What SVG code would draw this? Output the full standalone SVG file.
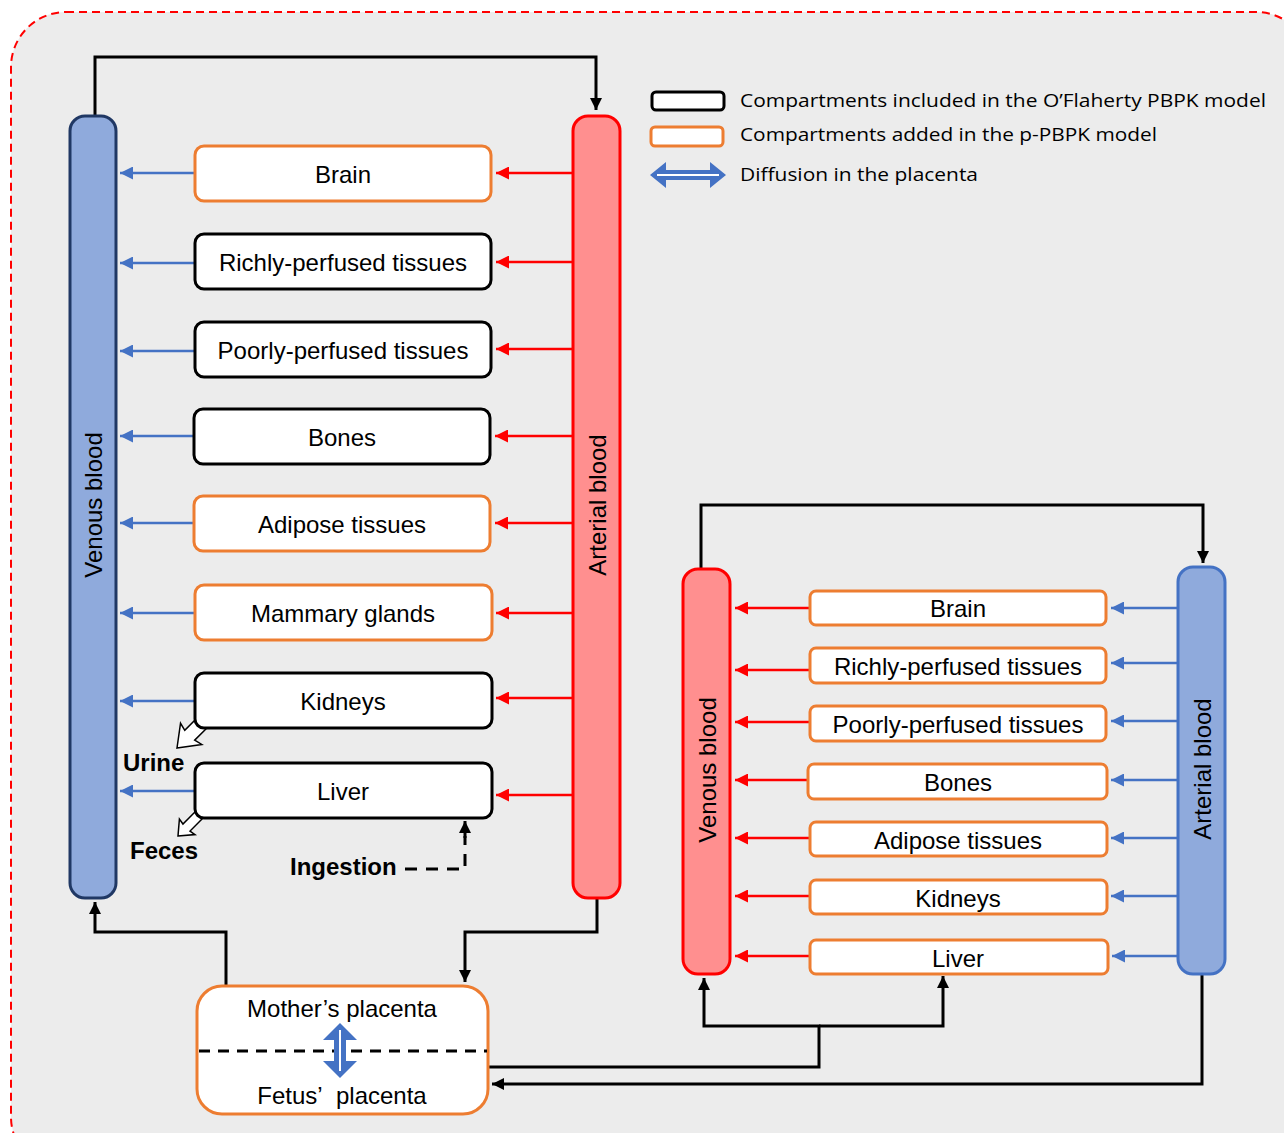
<svg xmlns="http://www.w3.org/2000/svg" width="1284" height="1133" viewBox="0 0 1284 1133">
<style>
.t{font-family:"Liberation Sans",Arial,sans-serif;font-size:24px;fill:#000;text-anchor:middle;dominant-baseline:central}
.col{font-family:"Liberation Sans",Arial,sans-serif;font-size:24px;fill:#000;text-anchor:middle;dominant-baseline:central}
.b{font-family:"Liberation Sans",Arial,sans-serif;font-size:24px;font-weight:bold;fill:#000}
.lg{font-family:"Open Sans","Noto Sans",sans-serif;font-size:19px;fill:#000}
.ob{fill:#fff;stroke:#ed7d31;stroke-width:3}
.kb{fill:#fff;stroke:#000;stroke-width:3}
.ven{fill:#8faadc;stroke:#203864;stroke-width:3}
.art{fill:#ff8f8f;stroke:#ff0000;stroke-width:3}
.fven{fill:#8faadc;stroke:#4472c4;stroke-width:3}
.k{fill:none;stroke:#000;stroke-width:3}
.r{fill:none;stroke:#ff0000;stroke-width:2.5}
.bl{fill:none;stroke:#4472c4;stroke-width:2.5}
</style>
<defs>
<marker id="mk" viewBox="0 0 10 10" refX="10" refY="5" markerWidth="12" markerHeight="14" markerUnits="userSpaceOnUse" orient="auto"><path d="M0,0 L10,5 L0,10 z" fill="#000"/></marker>
<marker id="mr" viewBox="0 0 10 10" refX="10" refY="5" markerWidth="13" markerHeight="13" markerUnits="userSpaceOnUse" orient="auto"><path d="M0,0 L10,5 L0,10 z" fill="#ff0000"/></marker>
<marker id="mb" viewBox="0 0 10 10" refX="10" refY="5" markerWidth="13" markerHeight="13" markerUnits="userSpaceOnUse" orient="auto"><path d="M0,0 L10,5 L0,10 z" fill="#4472c4"/></marker>
</defs>

<rect x="11" y="12" width="1300" height="1160" rx="55" fill="#ececec" stroke="#ff0000" stroke-width="2" stroke-dasharray="8,5"/>

<g id="connectors">
  <path class="k" d="M95,116 V57 H596 V110" marker-end="url(#mk)"/>
  <path class="k" d="M226,986 V932 H95 V902" marker-end="url(#mk)"/>
  <path class="k" d="M597,898 V932 H465 V982" marker-end="url(#mk)"/>
  <path class="r" d="M573,173 H496" marker-end="url(#mr)"/>
  <path class="r" d="M573,262 H496" marker-end="url(#mr)"/>
  <path class="r" d="M573,349 H496" marker-end="url(#mr)"/>
  <path class="r" d="M573,436 H495" marker-end="url(#mr)"/>
  <path class="r" d="M573,523 H495" marker-end="url(#mr)"/>
  <path class="r" d="M573,613 H496" marker-end="url(#mr)"/>
  <path class="r" d="M573,698 H496" marker-end="url(#mr)"/>
  <path class="r" d="M573,795 H496" marker-end="url(#mr)"/>
  <path class="bl" d="M195,173 H120" marker-end="url(#mb)"/>
  <path class="bl" d="M195,263 H120" marker-end="url(#mb)"/>
  <path class="bl" d="M195,351 H120" marker-end="url(#mb)"/>
  <path class="bl" d="M194,436 H120" marker-end="url(#mb)"/>
  <path class="bl" d="M194,523 H120" marker-end="url(#mb)"/>
  <path class="bl" d="M195,613 H120" marker-end="url(#mb)"/>
  <path class="bl" d="M195,701 H120" marker-end="url(#mb)"/>
  <path class="bl" d="M195,791 H120" marker-end="url(#mb)"/>
  <polygon points="0,0 -20,-15 -18,-7 -40,-7 -32,0 -40,7 -18,7 -20,15" fill="#fff" stroke="#000" stroke-width="1.5" transform="translate(177,748) rotate(135)"/>
  <polygon points="0,0 -13,-11 -12,-5 -30,-5 -30,5 -12,5 -13,11" fill="#fff" stroke="#000" stroke-width="1.5" transform="translate(178,836) rotate(135)"/>
  <path d="M405,869 H465 V836" fill="none" stroke="#000" stroke-width="3" stroke-dasharray="12,9"/>
  <path class="k" d="M465,838 V821" marker-end="url(#mk)"/>
  <path class="k" d="M701,570 V505 H1203 V563" marker-end="url(#mk)"/>
  <path class="r" d="M810,608 H735" marker-end="url(#mr)"/>
  <path class="r" d="M810,670 H735" marker-end="url(#mr)"/>
  <path class="r" d="M810,722 H735" marker-end="url(#mr)"/>
  <path class="r" d="M808,780 H735" marker-end="url(#mr)"/>
  <path class="r" d="M810,838 H735" marker-end="url(#mr)"/>
  <path class="r" d="M810,896 H735" marker-end="url(#mr)"/>
  <path class="r" d="M810,956 H735" marker-end="url(#mr)"/>
  <path class="bl" d="M1178,608 H1111" marker-end="url(#mb)"/>
  <path class="bl" d="M1178,663 H1111" marker-end="url(#mb)"/>
  <path class="bl" d="M1178,721 H1111" marker-end="url(#mb)"/>
  <path class="bl" d="M1178,780 H1111" marker-end="url(#mb)"/>
  <path class="bl" d="M1178,838 H1111" marker-end="url(#mb)"/>
  <path class="bl" d="M1178,896 H1111" marker-end="url(#mb)"/>
  <path class="bl" d="M1178,956 H1112" marker-end="url(#mb)"/>
  <path class="k" d="M489,1067 H819 V1026 H704 V978" marker-end="url(#mk)"/>
  <path class="k" d="M819,1026 H943 V976" marker-end="url(#mk)"/>
  <path class="k" d="M1202,974 V1084 H492" marker-end="url(#mk)"/>
</g>

<g id="mother-venous-blood">
  <rect class="ven" x="70" y="116" width="46" height="782" rx="15"/>
  <text class="col" transform="translate(93,505) rotate(-90)">Venous blood</text>
</g>
<g id="mother-arterial-blood">
  <rect class="art" x="573" y="116" width="47" height="782" rx="15"/>
  <text class="col" transform="translate(597,505) rotate(-90)">Arterial blood</text>
</g>

<g id="m-brain"><rect class="ob" x="195" y="146" width="296" height="55" rx="9"/><text class="t" x="343" y="174">Brain</text></g>
<g id="m-richly"><rect class="kb" x="195" y="234" width="296" height="55" rx="9"/><text class="t" x="343" y="262">Richly-perfused tissues</text></g>
<g id="m-poorly"><rect class="kb" x="195" y="322" width="296" height="55" rx="9"/><text class="t" x="343" y="350">Poorly-perfused tissues</text></g>
<g id="m-bones"><rect class="kb" x="194" y="409" width="296" height="55" rx="9"/><text class="t" x="342" y="437">Bones</text></g>
<g id="m-adipose"><rect class="ob" x="194" y="496" width="296" height="55" rx="9"/><text class="t" x="342" y="524">Adipose tissues</text></g>
<g id="m-mammary"><rect class="ob" x="195" y="585" width="297" height="55" rx="9"/><text class="t" x="343" y="613">Mammary glands</text></g>
<g id="m-kidneys"><rect class="kb" x="195" y="673" width="297" height="55" rx="9"/><text class="t" x="343" y="701">Kidneys</text></g>
<g id="m-liver"><rect class="kb" x="195" y="763" width="297" height="55" rx="9"/><text class="t" x="343" y="791">Liver</text></g>

<g id="urine-label"><text class="b" x="123" y="771">Urine</text></g>
<g id="feces-label"><text class="b" x="130" y="859">Feces</text></g>
<g id="ingestion-label"><text class="b" x="290" y="875">Ingestion</text></g>

<g id="placenta">
  <rect class="ob" x="197" y="986" width="291" height="128" rx="25"/>
  <line x1="199" y1="1051" x2="487" y2="1051" stroke="#000" stroke-width="3" stroke-dasharray="11,8"/>
  <polygon points="340,1023 357,1040 346,1040 346,1061 357,1061 340,1078 323,1061 334,1061 334,1040 323,1040" fill="#4472c4"/>
  <line x1="340" y1="1030" x2="340" y2="1071" stroke="#fff" stroke-width="2"/>
  <text class="t" x="342" y="1008">Mother’s placenta</text>
  <text class="t" x="342" y="1095" xml:space="preserve">Fetus’&#160; placenta</text>
</g>

<g id="fetus-venous-blood">
  <rect class="art" x="683" y="569" width="47" height="405" rx="15"/>
  <text class="col" transform="translate(707,770) rotate(-90)">Venous blood</text>
</g>
<g id="fetus-arterial-blood">
  <rect class="fven" x="1178" y="567" width="47" height="407" rx="15"/>
  <text class="col" transform="translate(1202,769) rotate(-90)">Arterial blood</text>
</g>

<g id="f-brain"><rect class="ob" x="810" y="591" width="296" height="34" rx="6"/><text class="t" x="958" y="608">Brain</text></g>
<g id="f-richly"><rect class="ob" x="810" y="648" width="296" height="35" rx="6"/><text class="t" x="958" y="666">Richly-perfused tissues</text></g>
<g id="f-poorly"><rect class="ob" x="810" y="706" width="296" height="35" rx="6"/><text class="t" x="958" y="724">Poorly-perfused tissues</text></g>
<g id="f-bones"><rect class="ob" x="808" y="764" width="299" height="35" rx="6"/><text class="t" x="958" y="782">Bones</text></g>
<g id="f-adipose"><rect class="ob" x="810" y="822" width="297" height="34" rx="6"/><text class="t" x="958" y="840">Adipose tissues</text></g>
<g id="f-kidneys"><rect class="ob" x="810" y="880" width="297" height="34" rx="6"/><text class="t" x="958" y="898">Kidneys</text></g>
<g id="f-liver"><rect class="ob" x="810" y="940" width="298" height="34" rx="6"/><text class="t" x="958" y="958">Liver</text></g>

<g id="legend">
  <rect x="652" y="92" width="72" height="18" rx="4" fill="#fff" stroke="#000" stroke-width="3"/>
  <text class="lg" x="740" y="107" textLength="526" lengthAdjust="spacingAndGlyphs">Compartments included in the O’Flaherty PBPK model</text>
  <rect x="651" y="127" width="72" height="19" rx="4" fill="#fff" stroke="#ed7d31" stroke-width="3"/>
  <text class="lg" x="740" y="141" textLength="417" lengthAdjust="spacingAndGlyphs">Compartments added in the p-PBPK model</text>
  <polygon points="650,175 666,162 666,170 710,170 710,162 726,175 710,188 710,180 666,180 666,188" fill="#4472c4"/>
  <line x1="657" y1="175" x2="719" y2="175" stroke="#fff" stroke-width="2"/>
  <text class="lg" x="740" y="181" textLength="238" lengthAdjust="spacingAndGlyphs">Diffusion in the placenta</text>
</g>
</svg>
